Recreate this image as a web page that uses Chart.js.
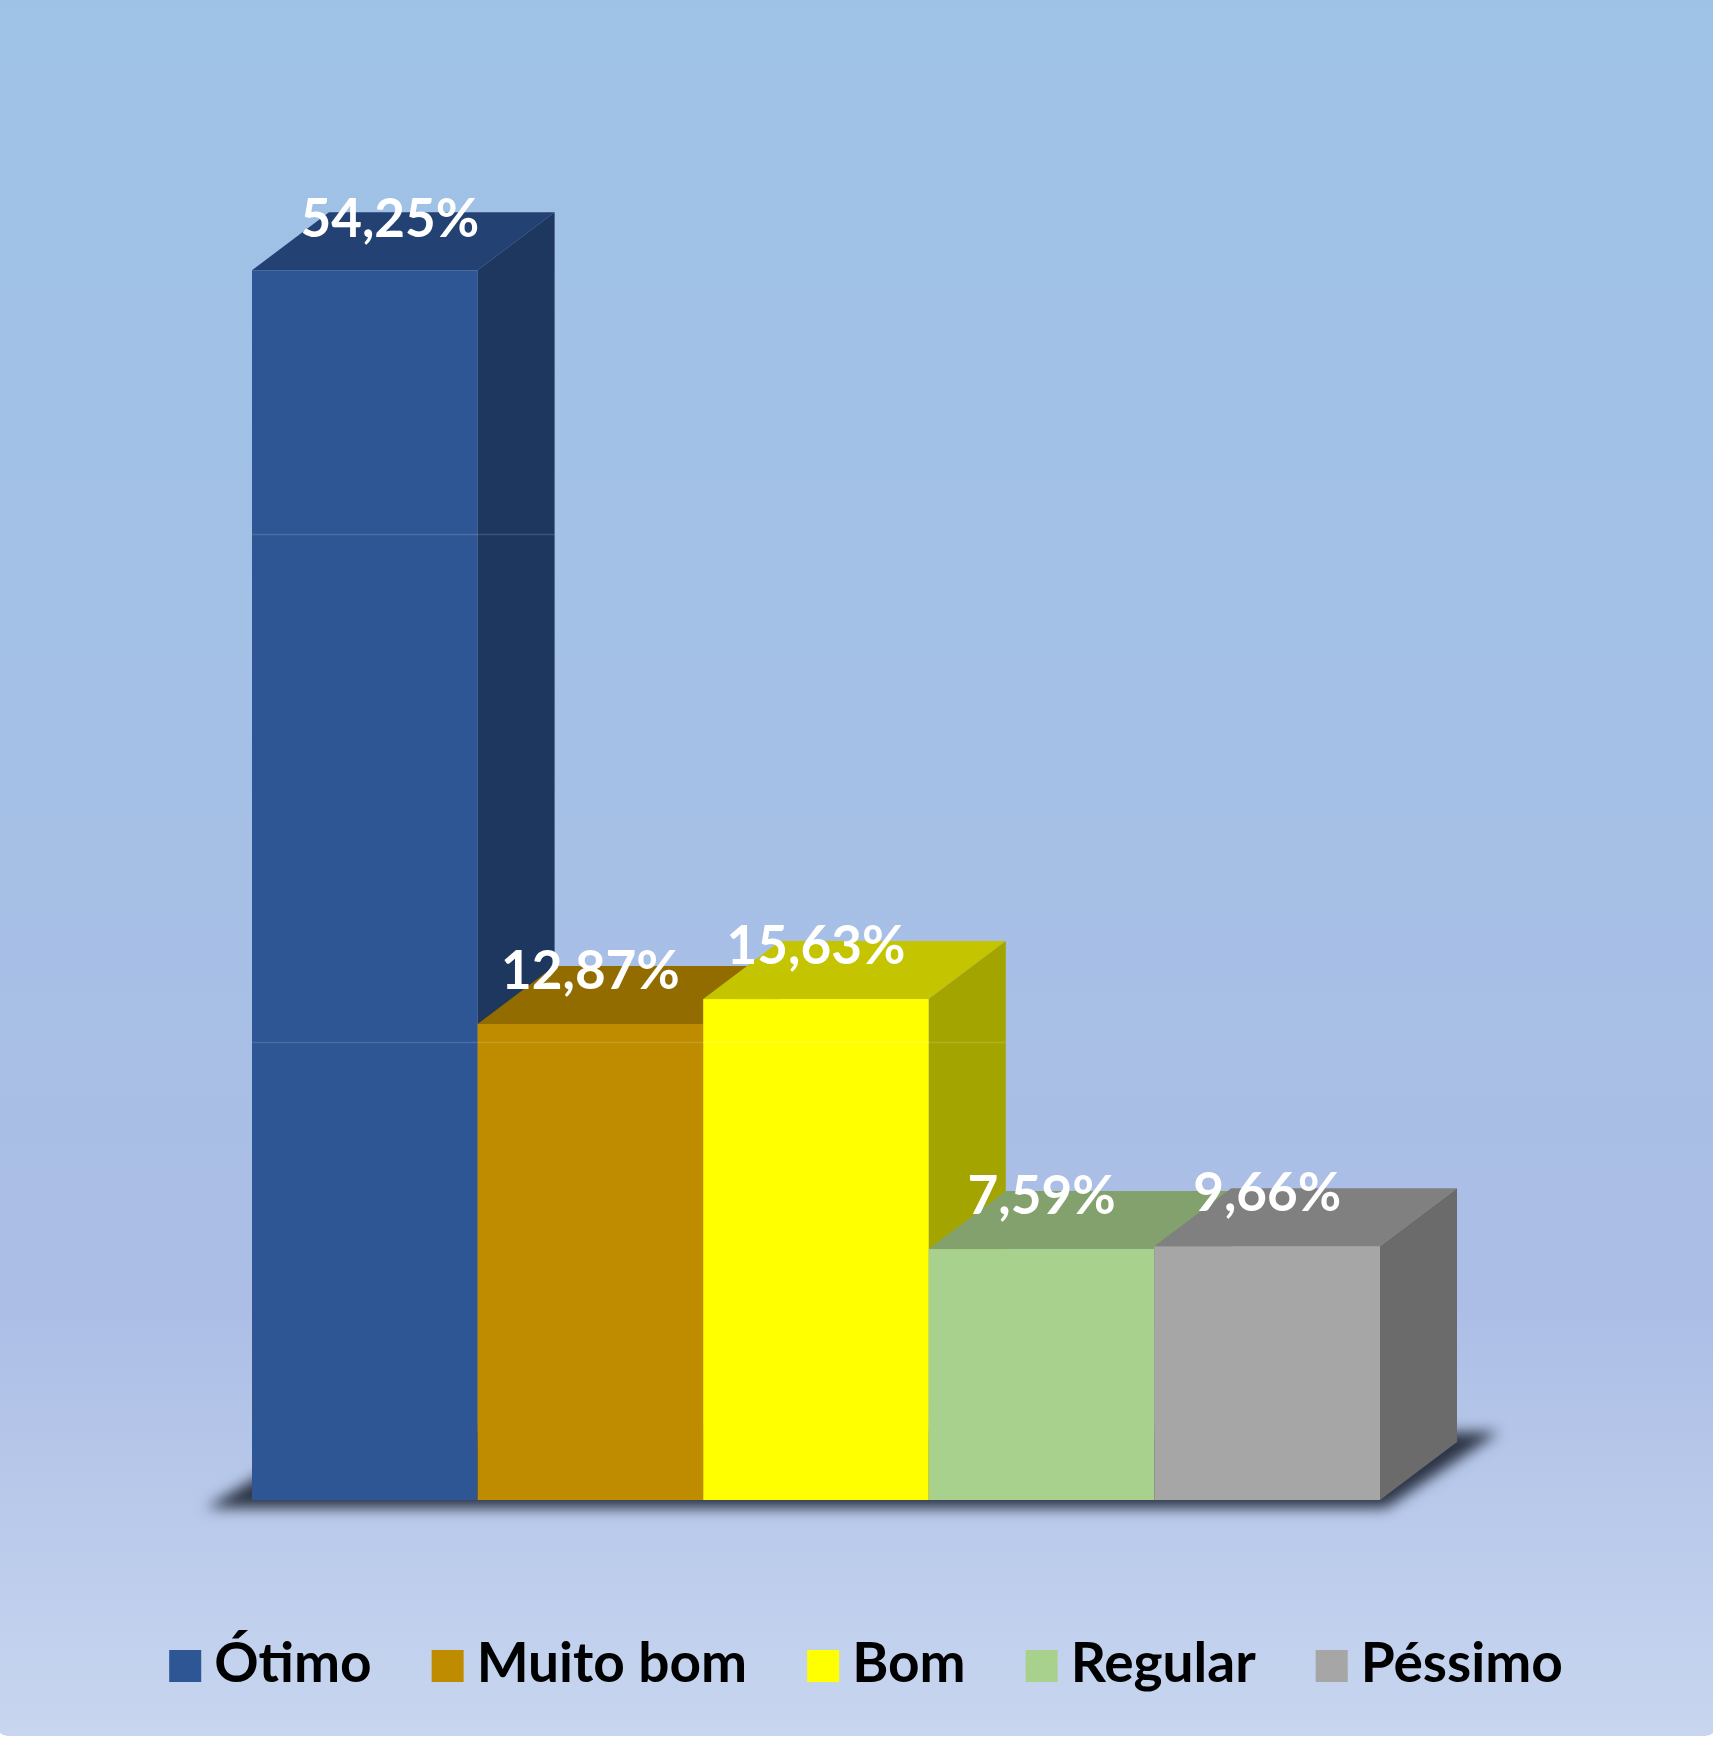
<!DOCTYPE html>
<html>
<head>
<meta charset="utf-8">
<script src="https://cdn.jsdelivr.net/npm/chart.js@4/dist/chart.umd.min.js"></script>
<style>
  html, body { margin: 0; padding: 0; background: #fff; }
  #wrap { width: 1713px; height: 1739px; }
</style>
</head>
<body>
<div id="wrap"><canvas id="chart" width="1713" height="1739"></canvas></div>
<script>
const categories = ['Ótimo', 'Muito bom', 'Bom', 'Regular', 'Péssimo'];
// bar heights as drawn in the picture (the printed labels don't follow them)
const barHeights = [54.25, 21.0, 22.1, 11.07, 11.2];
const valueLabels = ['54,25%', '12,87%', '15,63%', '7,59%', '9,66%'];
const frontColors = ['#2E5594', '#BF8C00', '#FFFF00', '#A9D18E', '#A6A6A6'];
const gridValues = [20.2, 42.6];

const depthX = 77;
const depthY = 58;
const fontFamily = 'Lato, "Open Sans", sans-serif';

function shade(hex, f) {
  const n = parseInt(hex.slice(1), 16);
  const r = Math.round(((n >> 16) & 255) * f);
  const g = Math.round(((n >> 8) & 255) * f);
  const b = Math.round((n & 255) * f);
  return `rgb(${r},${g},${b})`;
}

function poly(ctx, pts) {
  ctx.beginPath();
  ctx.moveTo(pts[0][0], pts[0][1]);
  for (let i = 1; i < pts.length; i++) ctx.lineTo(pts[i][0], pts[i][1]);
  ctx.closePath();
}

const backgroundPlugin = {
  id: 'bg',
  beforeDraw(chart) {
    const ctx = chart.ctx;
    const w = chart.width, h = chart.height;
    ctx.save();
    ctx.fillStyle = '#ffffff';
    ctx.fillRect(0, 0, w, h);
    ctx.beginPath();
    ctx.roundRect(-4, -10, w + 8, h + 7, 12);
    ctx.clip();
    const grad = ctx.createLinearGradient(0, 0, 0, h);
    grad.addColorStop(0, '#9EC2E6');
    grad.addColorStop(0.45, '#A5C0E6');
    grad.addColorStop(0.75, '#ACBEE6');
    grad.addColorStop(1, '#C8D6EF');
    ctx.fillStyle = grad;
    ctx.fillRect(0, 0, w, h);
    ctx.restore();
  }
};

const bars3dPlugin = {
  id: 'bars3d',
  beforeDatasetsDraw(chart) {
    const ctx = chart.ctx;
    const meta = chart.getDatasetMeta(0);
    const yScale = chart.scales.y;
    const first = meta.data[0];
    const last = meta.data[meta.data.length - 1];
    const L = first.x - first.width / 2;
    const R = last.x + last.width / 2;
    const B = first.base;

    // floor shadow
    ctx.save();
    ctx.filter = 'blur(7px)';
    ctx.fillStyle = 'rgba(36, 44, 60, 0.95)';
    poly(ctx, [[L - 46, B + 8], [R + 6, B + 8], [R + depthX + 42, B - 68], [L + 80, B - 68]]);
    ctx.fill();
    ctx.restore();

    meta.data.forEach((bar, i) => {
      const l = bar.x - bar.width / 2;
      const r = bar.x + bar.width / 2;
      const top = bar.y;
      const base = bar.base;
      const col = frontColors[i];

      ctx.save();
      ctx.fillStyle = col;
      ctx.fillRect(l, top, r - l, base - top);

      ctx.fillStyle = shade(col, 0.77);
      poly(ctx, [[l, top], [r, top], [r + depthX, top - depthY], [l + depthX, top - depthY]]);
      ctx.fill();

      ctx.fillStyle = shade(col, 0.645);
      poly(ctx, [[r, top], [r + depthX, top - depthY], [r + depthX, base - depthY], [r, base]]);
      ctx.fill();

      // faint gridlines showing across the bar
      ctx.beginPath();
      ctx.rect(l, top, r - l, base - top);
      ctx.moveTo(r, top);
      ctx.lineTo(r + depthX, top - depthY);
      ctx.lineTo(r + depthX, base - depthY);
      ctx.lineTo(r, base);
      ctx.closePath();
      ctx.clip();
      ctx.strokeStyle = 'rgba(255,255,255,0.14)';
      ctx.lineWidth = 1.5;
      gridValues.forEach(v => {
        const gy = Math.round(yScale.getPixelForValue(v)) + 0.5;
        ctx.beginPath();
        ctx.moveTo(l, gy);
        ctx.lineTo(r + depthX, gy);
        ctx.stroke();
      });
      ctx.restore();
    });
    return false;
  },
  afterDraw(chart) {
    const ctx = chart.ctx;
    const meta = chart.getDatasetMeta(0);

    // value labels
    ctx.save();
    ctx.font = `bold 53px ${fontFamily}`;
    ctx.fillStyle = '#ffffff';
    ctx.textAlign = 'center';
    ctx.textBaseline = 'alphabetic';
    meta.data.forEach((bar, i) => {
      const dx = i === 0 ? 25 : 0;
      const dy = i === 0 ? 33 : 35;
      ctx.fillText(valueLabels[i], bar.x + dx, bar.y - dy);
    });
    ctx.restore();

    // legend
    ctx.save();
    ctx.font = `bold 55px ${fontFamily}`;
    ctx.textAlign = 'left';
    ctx.textBaseline = 'alphabetic';
    const box = 32, gap = 13, itemGap = 60;
    const widths = categories.map(c => ctx.measureText(c).width);
    const total = widths.reduce((s, w) => s + box + gap + w, 0) + itemGap * (categories.length - 1);
    let x = 866 - total / 2;
    const baseline = 1682;
    categories.forEach((c, i) => {
      ctx.fillStyle = frontColors[i];
      ctx.fillRect(x, baseline - box, box, box);
      ctx.fillStyle = '#000000';
      ctx.fillText(c, x + box + gap, baseline);
      x += box + gap + widths[i] + itemGap;
    });
    ctx.restore();
  }
};

function drawChart() {
  const ctx = document.getElementById('chart').getContext('2d');
  new Chart(ctx, {
    type: 'bar',
    data: {
      labels: categories,
      datasets: [{
        data: barHeights,
        backgroundColor: frontColors,
        categoryPercentage: 1,
        barPercentage: 1,
        borderWidth: 0
      }]
    },
    options: {
      responsive: false,
      animation: false,
      devicePixelRatio: 1,
      layout: {
        padding: { left: 252, right: 333, top: 140, bottom: 239 }
      },
      scales: {
        x: { display: false },
        y: { display: false, min: 0, max: 60 }
      },
      plugins: {
        legend: { display: false },
        tooltip: { enabled: false }
      }
    },
    plugins: [backgroundPlugin, bars3dPlugin]
  });
}

document.fonts.load(`bold 55px Lato`).then(drawChart, drawChart);
</script>
</body>
</html>
